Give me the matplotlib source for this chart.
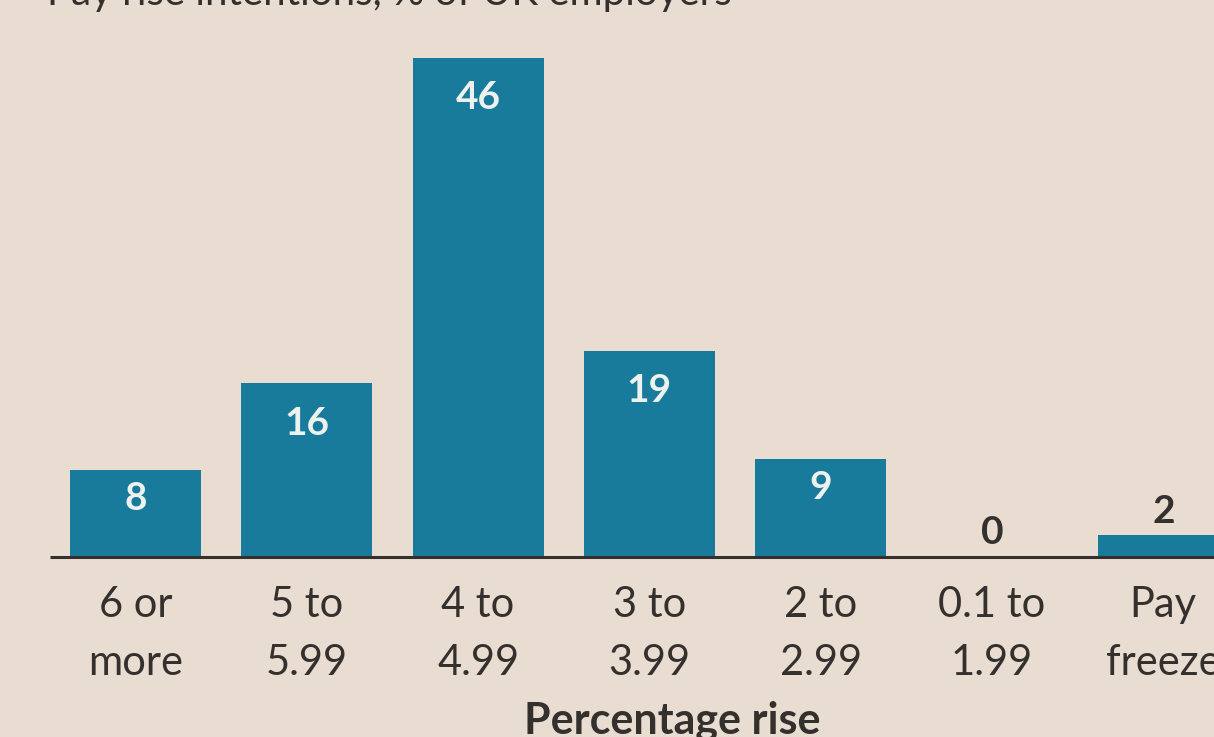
import numpy as np
import matplotlib.pyplot as plt

categories = ["6 or\nmore", "5 to\n5.99", "4 to\n4.99", "3 to\n3.99",
              "2 to\n2.99", "0.1 to\n1.99", "Pay\nfreeze"]
shares = [8, 16, 46, 19, 9, 0, 2]

title = "Pay rise intentions, % of UK employers"
xlabel = "Percentage rise"

BG = "#e9ddd2"
BAR = "#187b9b"
INK = "#33302e"
LIGHT = "#eef2ef"

plt.rcParams['font.family'] = ['Lato', 'DejaVu Sans']

W, H, DPI = 1214, 737, 100
fig = plt.figure(figsize=(W / DPI, H / DPI), dpi=DPI, facecolor=BG)
ax = fig.add_axes([0, 0, 1, 1])
ax.set_facecolor(BG)

# pixel layout: bar pitch 171.3 px, first centre at 135.5 px, baseline 180 px from bottom
pitch = 171.3
unit = 10.85
ax.set_xlim(-135.5 / pitch, (W - 135.5) / pitch)
ax.set_ylim(-180 / unit, (H - 180) / unit)
ax.axis("off")

x = np.arange(len(shares))
ax.bar(x, shares, width=131 / pitch, color=BAR, zorder=2)
ax.plot([-85.5 / pitch, 7], [0, 0], color=INK, lw=2.2, zorder=3,
        solid_capstyle="butt")

px = 0.72  # points per pixel at 100 dpi
for xi, v in zip(x, shares):
    if v >= 10:
        off, col = -40, LIGHT
    elif v >= 5:
        off, col = -28, LIGHT
    else:
        off, col = 24, INK
    ax.annotate(str(v), (xi, v), xytext=(0, off * px), textcoords="offset points",
                ha="center", va="center", color=col, fontsize=28,
                fontweight="bold")

for xi, lab in zip(x, categories):
    ax.text(xi, -77 / unit, lab, ha="center", va="center", color=INK,
            fontsize=30, linespacing=1.62)

ax.text((672 - 135.5) / pitch, -164 / unit, xlabel, ha="center", va="center",
        color=INK, fontsize=31, fontweight="bold")

fig.text(47 / W, 1 - 5 / H, title, ha="left", va="baseline", color=INK,
         fontsize=29)

fig.savefig("out.png", dpi=DPI, facecolor=BG)
